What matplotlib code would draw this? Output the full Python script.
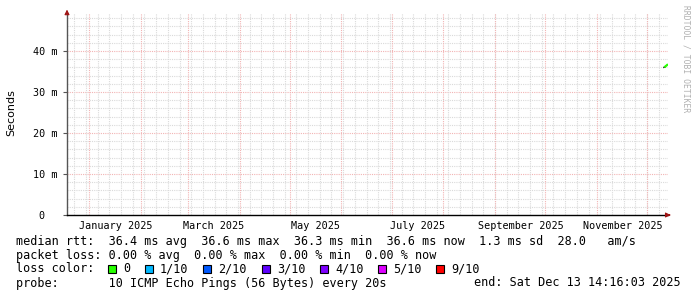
import matplotlib
matplotlib.use("Agg")
import matplotlib.pyplot as plt
from matplotlib.patches import Rectangle
import pandas as pd
import numpy as np

# time window (SmokePing "last 360 days")
end_time = pd.Timestamp("2025-12-13 14:16:03")
start_time = end_time - pd.Timedelta(days=360)

# the only samples in the window (median rtt in ms)
sample_times = pd.to_datetime(["2025-12-11 22:00", "2025-12-12 12:00", "2025-12-13 02:00"])
sample_median = [36.2, 36.4, 36.6]
smoke_times = pd.to_datetime(["2025-12-11 02:00", "2025-12-11 20:00"])
smoke_values = [36.0, 36.1]

month_labels = ["January 2025", "March 2025", "May 2025", "July 2025",
                "September 2025", "November 2025"]
label_months = pd.to_datetime(["2025-01-01", "2025-03-01", "2025-05-01",
                               "2025-07-01", "2025-09-01", "2025-11-01"])
y_major = [0, 10, 20, 30, 40]
y_labels = ["0  ", "10 m", "20 m", "30 m", "40 m"]

loss_names = ["0", "1/10", "2/10", "3/10", "4/10", "5/10", "9/10"]
loss_colors = ["#26ff00", "#00b8ff", "#0059ff", "#5e00ff", "#7e00ff", "#dd00ff", "#ff0000"]
loss_box_x = [108, 145, 203, 262, 320, 378, 436]

rtt_line = "median rtt:  36.4 ms avg  36.6 ms max  36.3 ms min  36.6 ms now  1.3 ms sd  28.0   am/s"
loss_line = "packet loss: 0.00 % avg  0.00 % max  0.00 % min  0.00 % now"
probe_line = "probe:       10 ICMP Echo Pings (56 Bytes) every 20s"
end_line = "end: Sat Dec 13 14:16:03 2025"

W, H = 697, 297
fig = plt.figure(figsize=(W / 100, H / 100), dpi=100)
ax = fig.add_axes([67 / W, 82 / H, 601 / W, 202 / H])

ymax = 202 / 4.1
ax.set_xlim(start_time, end_time)
ax.set_ylim(0, ymax)

minor_grid = "#dadada"
major_grid = "#f2b4b4"

# horizontal grid
for v in np.arange(2, ymax, 2):
    if v % 10 == 0:
        ax.axhline(v, color=major_grid, lw=0.8, ls=(0, (1, 1)), zorder=1)
    else:
        ax.axhline(v, color=minor_grid, lw=0.8, ls=(0, (1, 1)), zorder=1)

# vertical grid: mondays (minor), month starts (major)
for d in pd.date_range(start_time.normalize(), end_time, freq="W-MON"):
    ax.axvline(d, color=minor_grid, lw=0.8, ls=(0, (1, 1)), zorder=1)
for d in pd.date_range("2025-01-01", end_time, freq="MS"):
    ax.axvline(d, color=major_grid, lw=0.8, ls=(0, (1, 1)), zorder=1)

# data
ax.plot(smoke_times, smoke_values, color="#333333", lw=1, zorder=3)
ax.plot(sample_times, sample_median, color=loss_colors[0], lw=1.6, zorder=4)

# ticks
centers = [m + pd.Timedelta(days=15.5) for m in label_months]
ax.set_xticks(centers)
ax.set_xticklabels(month_labels)
ax.set_yticks(y_major)
ax.set_yticklabels(y_labels)
ax.tick_params(axis="x", length=0, pad=4, labelsize=7.3)
ax.tick_params(axis="y", length=3, width=0.8, pad=4, labelsize=7.3, color="#555555")
for lab in ax.get_xticklabels() + ax.get_yticklabels():
    lab.set_family("DejaVu Sans Mono")

for s in ["top", "right"]:
    ax.spines[s].set_visible(False)
ax.spines["left"].set_color("#555555")
ax.spines["left"].set_linewidth(1)
ax.spines["bottom"].set_color("black")
ax.spines["bottom"].set_linewidth(1)

# axis arrows
arrow_col = "#a01515"
ax.annotate("", xy=(0, 1.017), xytext=(0, 0.99), xycoords="axes fraction",
            arrowprops=dict(arrowstyle="-|>", color=arrow_col, lw=0.8, mutation_scale=7),
            annotation_clip=False)
ax.annotate("", xy=(1.009, 0), xytext=(0.997, 0), xycoords="axes fraction",
            arrowprops=dict(arrowstyle="-|>", color=arrow_col, lw=0.8, mutation_scale=7),
            annotation_clip=False)

fig.text(11 / W, 1 - 113 / H, "Seconds", rotation=90, ha="center", va="center",
         fontsize=8, family="DejaVu Sans")
fig.text(686 / W, 1 - 5 / H, "RRDTOOL / TOBI OETIKER", rotation=270, ha="center",
         va="top", fontsize=5.8, color="#b0b0b0", family="DejaVu Sans Mono")

mono = dict(family="DejaVu Sans Mono", fontsize=8.5, va="center")
fig.text(16 / W, 1 - 241 / H, rtt_line, **mono)
fig.text(16 / W, 1 - 255 / H, loss_line, **mono)
fig.text(16 / W, 1 - 269 / H, "loss color:", **mono)
fig.text(16 / W, 1 - 283 / H, probe_line, **mono)
fig.text(681 / W, 1 - 283 / H, end_line, ha="right", **mono)

for name, col, bx in zip(loss_names, loss_colors, loss_box_x):
    fig.patches.append(Rectangle((bx / W, 1 - 273 / H), 8 / W, 8 / H, transform=fig.transFigure,
                                 facecolor=col, edgecolor="black", lw=0.8))
    fig.text((bx + 15) / W, 1 - 269 / H, name, **mono)

fig.savefig("out.png", dpi=100)
